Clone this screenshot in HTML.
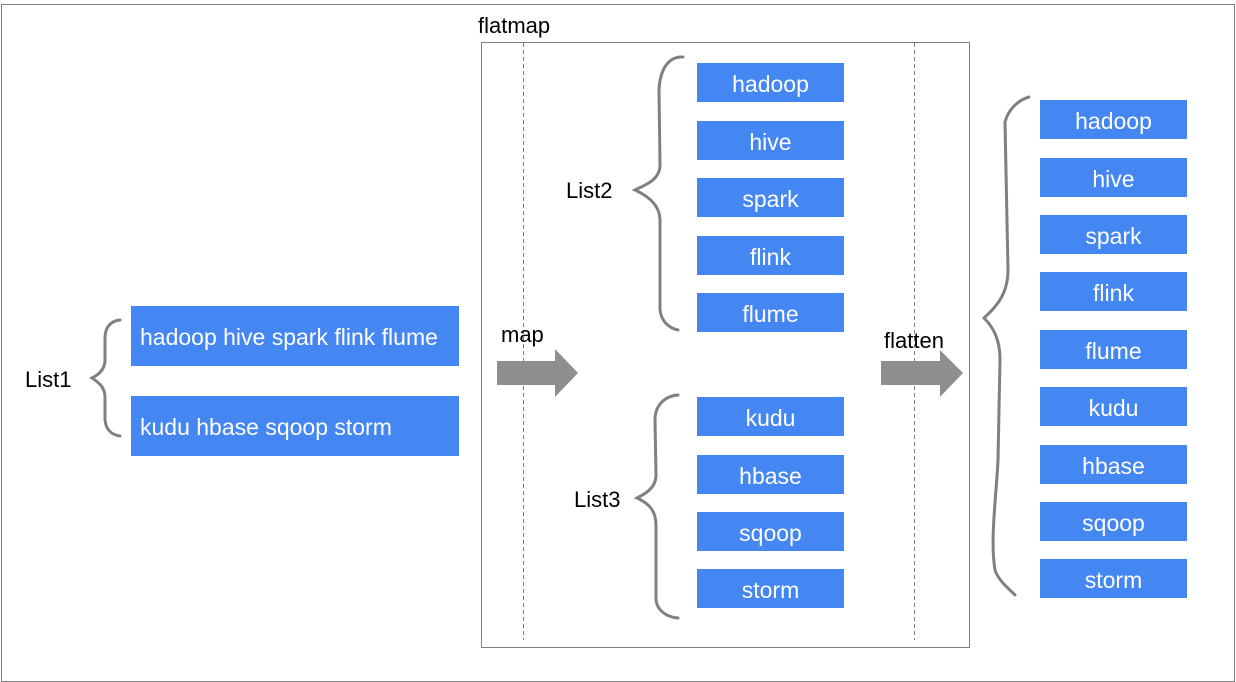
<!DOCTYPE html>
<html><head><style>
body{margin:0;width:1236px;height:682px;background:#fff;position:relative;overflow:hidden;font-family:"Liberation Sans",Arial,sans-serif}
.b{position:absolute;background:#4486f2;color:#fff;font-size:23px;display:flex;align-items:center;justify-content:center;width:147px;height:39px;padding-top:3px;box-sizing:border-box}
.w{position:absolute;background:#4486f2;color:#fff;font-size:23px;display:flex;align-items:center;padding-left:9px;padding-top:3px;box-sizing:border-box;left:131px;width:328px;height:60px}
.t{position:absolute;font-size:22px;color:#000}
</style></head><body>
<svg width="1236" height="682" style="position:absolute;left:0;top:0">
<rect x="1.5" y="4.5" width="1233" height="677" fill="none" stroke="#7f7f7f"/>
<rect x="481.5" y="42.5" width="488" height="605" fill="none" stroke="#7f7f7f"/>
<line x1="523.5" y1="43" x2="523.5" y2="640" stroke="#7f7f7f" stroke-dasharray="4,3"/>
<line x1="914.5" y1="43" x2="914.5" y2="640" stroke="#7f7f7f" stroke-dasharray="4,3"/>
<polygon points="497,361 555,361 555,349 578,373 555,397 555,385 497,385" fill="#8f8f8f"/>
<polygon points="881,361 940,361 940,350 963,373 940,397 940,385 881,385" fill="#8f8f8f"/>
<g fill="none" stroke="#808080" stroke-width="3" stroke-linecap="round">
<path d="M683,57 C668,56 660,70 659,90 L660,165 C660,180 645,185 635,190 C648,196 660,205 660,220 L660,310 C661,320 668,328 678,330"/>
<path d="M678,395 C665,396 655,405 655,420 L656,475 C656,488 645,494 637,498 C648,503 656,510 656,525 L656,600 C657,610 666,617 678,618"/>
<path d="M120,320 C110,321 105,328 105,338 L105,360 C105,370 98,375 92,378 C98,382 105,387 105,397 L105,420 C106,430 112,435 120,436"/>
<path d="M1029,97 C1018,100 1008,110 1005,122 L1008,270 C1008,295 995,308 984,318 C994,328 1000,340 1000,360 L998,460 C996,500 990,540 995,570 C998,580 1008,588 1015,595"/>
</g>
</svg>
<div class="t" style="left:478px;top:13px">flatmap</div>
<div class="t" style="left:25px;top:367px">List1</div>
<div class="t" style="left:566px;top:178px">List2</div>
<div class="t" style="left:574px;top:487px">List3</div>
<div class="t" style="left:501px;top:322px">map</div>
<div class="t" style="left:884px;top:328px">flatten</div>
<div class="w" style="top:306px">hadoop hive spark flink flume</div>
<div class="w" style="top:396px">kudu hbase sqoop storm</div>
<div class="b" style="left:697px;top:63px">hadoop</div>
<div class="b" style="left:697px;top:121px">hive</div>
<div class="b" style="left:697px;top:178px">spark</div>
<div class="b" style="left:697px;top:236px">flink</div>
<div class="b" style="left:697px;top:293px">flume</div>
<div class="b" style="left:697px;top:397px">kudu</div>
<div class="b" style="left:697px;top:455px">hbase</div>
<div class="b" style="left:697px;top:512px">sqoop</div>
<div class="b" style="left:697px;top:569px">storm</div>
<div class="b" style="left:1040px;top:100px">hadoop</div>
<div class="b" style="left:1040px;top:158px">hive</div>
<div class="b" style="left:1040px;top:215px">spark</div>
<div class="b" style="left:1040px;top:272px">flink</div>
<div class="b" style="left:1040px;top:330px">flume</div>
<div class="b" style="left:1040px;top:387px">kudu</div>
<div class="b" style="left:1040px;top:445px">hbase</div>
<div class="b" style="left:1040px;top:502px">sqoop</div>
<div class="b" style="left:1040px;top:559px">storm</div>
</body></html>
